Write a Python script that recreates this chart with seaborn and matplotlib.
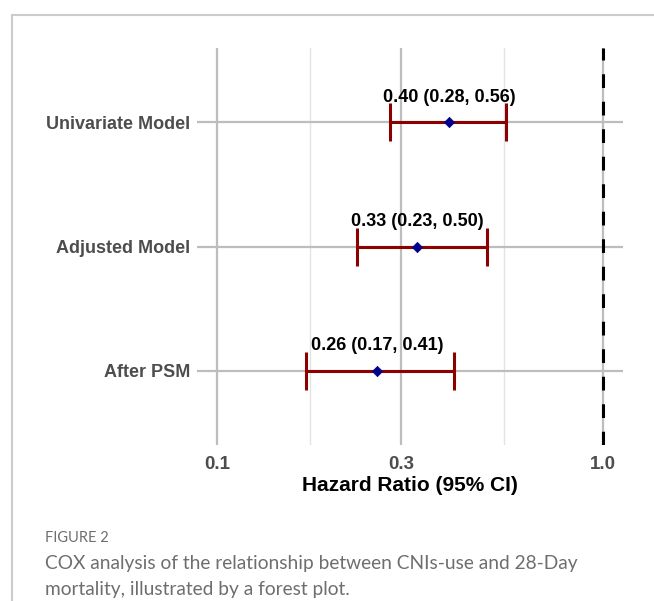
import numpy as np
import pandas as pd
import matplotlib
matplotlib.use("Agg")
import matplotlib.pyplot as plt
from matplotlib.lines import Line2D
import seaborn as sns

models = ["Univariate Model", "Adjusted Model", "After PSM"]
hr = [0.40, 0.33, 0.26]
ci_low = [0.28, 0.23, 0.17]
ci_high = [0.56, 0.50, 0.41]
x_ticks = [0.1, 0.3, 1.0]
x_tick_labels = ["0.1", "0.3", "1.0"]

df = pd.DataFrame({"model": models, "hr": hr, "lo": ci_low, "hi": ci_high})
df["ypos"] = np.arange(len(df))
df["label"] = [f"{h:.2f} ({l:.2f}, {u:.2f})" for h, l, u in zip(hr, ci_low, ci_high)]

sns.set_theme(style="white")
plt.rcParams["font.family"] = ["Liberation Sans", "DejaVu Sans"]

fig = plt.figure(figsize=(6.54, 6.01), dpi=100)
ax = fig.add_axes([197/654, 1-445/601, 426/654, 397/601])
ax.set_xscale("log")
ax.set_xlim(10**-1.052, 10**0.052)
ax.set_ylim(len(df)-0.4, -0.6)

# grid
for xv in x_ticks:
    ax.axvline(xv, color="#BDBDBD", lw=1.6, zorder=0)
for xv in [0.174, 0.554]:
    ax.axvline(xv, color="#E3E3E3", lw=1.0, zorder=0)
for yv in df["ypos"]:
    ax.axhline(yv, color="#BDBDBD", lw=1.6, zorder=0)

ax.axvline(1.0, color="black", lw=2.2, ls=(0, (4.5, 4.5)), zorder=1)

ax.errorbar(df["hr"], df["ypos"], xerr=[df["hr"]-df["lo"], df["hi"]-df["hr"]],
            fmt="none", ecolor="#8B0000", elinewidth=2.2, capsize=13.5, capthick=2.2, zorder=2)
sns.scatterplot(data=df, x="hr", y="ypos", marker="D", s=28, color="#00008B",
                edgecolor="#00008B", linewidth=0.5, ax=ax, zorder=3, legend=False)

for _, r in df.iterrows():
    ax.text(r["hr"], r["ypos"]-0.2, r["label"], ha="center", va="center",
            fontsize=13, fontweight="bold", color="black")

ax.set_xticks(x_ticks)
ax.set_xticklabels(x_tick_labels, fontsize=13.5, fontweight="bold", color="#4D4D4D")
ax.xaxis.set_minor_locator(matplotlib.ticker.NullLocator())
ax.set_yticks(df["ypos"])
ax.set_yticklabels(df["model"], fontsize=13, fontweight="bold", color="#4D4D4D")
ax.tick_params(axis="y", length=0, pad=5)
ax.tick_params(axis="x", length=0, pad=8)
ax.set_xlabel("Hazard Ratio (95% CI)", fontsize=15, fontweight="bold", color="black", labelpad=2)
ax.set_ylabel("")
for s in ax.spines.values():
    s.set_visible(False)

# frame lines
fig.add_artist(Line2D([12/654, 1], [1-15/601, 1-15/601], color="#CCCCCC", lw=1.5))
fig.add_artist(Line2D([12/654, 12/654], [0, 1-15/601], color="#CCCCCC", lw=1.5))

cap_font = ["Lato", "DejaVu Sans"]
fig.text(45/654, 1-538/601, "FIGURE 2", fontsize=10.5, color="#6E6E6E",
         family=cap_font, va="center", ha="left")
fig.text(45/654, 1-563/601, "COX analysis of the relationship between CNIs-use and 28-Day",
         fontsize=13.8, color="#6E6E6E", family=cap_font, va="center", ha="left")
fig.text(45/654, 1-589/601, "mortality, illustrated by a forest plot.",
         fontsize=13.8, color="#6E6E6E", family=cap_font, va="center", ha="left")

fig.savefig("out.png", dpi=100, facecolor="white")
